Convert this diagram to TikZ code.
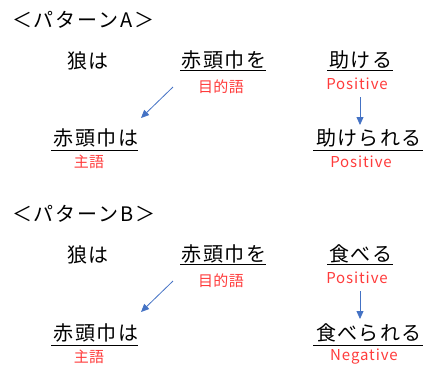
\documentclass[tikz,border=0pt]{standalone}
\usepackage{fontspec}
\setmainfont{Noto Sans CJK JP}
\usetikzlibrary{arrows.meta}
\definecolor{lblred}{HTML}{FF3B3B}
\definecolor{arrblue}{HTML}{4472C4}
\tikzset{
  jtext/.style={inner sep=0pt, font=\fontsize{20}{22}\selectfont\addfontfeature{LetterSpace=7}, text=black},
  title/.style={inner sep=0pt, anchor=west, font=\fontsize{20}{22}\selectfont\addfontfeature{LetterSpace=9}},
  redlbl/.style={inner sep=0pt, font=\fontsize{15}{16}\selectfont\addfontfeature{LetterSpace=3}, text=lblred},
  redlat/.style={inner sep=0pt, font=\fontsize{15}{16}\selectfont\addfontfeature{LetterSpace=6}, text=lblred},
  uline/.style={draw=black, line width=0.9pt},
  arr/.style={draw=arrblue, line width=0.8pt, -{Triangle[length=8pt,width=7pt]}}
}
\begin{document}
\begin{tikzpicture}[x=1pt,y=-1pt]
\useasboundingbox (0,0) rectangle (424,367);
% Pattern A
\node[title] (tA) at (12,20) {＜パターンA＞};
\node[jtext] (wolfA) at (88,61) {狼は};
\node[jtext] (objA) at (224,60) {赤頭巾を};
\node[redlbl] (objlA) at (221,87) {目的語};
\node[jtext] (vA) at (361,60) {助ける};
\node[redlat] (pvA) at (357,84) {Positive};
\node[jtext] (subA) at (96,138) {赤頭巾は};
\node[redlbl] (sublA) at (89,162) {主語};
\node[jtext] (vpA) at (369,138) {助けられる};
\node[redlat] (pvpA) at (361,162) {Positive};
\draw[uline] (180,70) -- (266,70);
\draw[uline] (327,70) -- (393,70);
\draw[uline] (51,150) -- (138,150);
\draw[uline] (313,150) -- (423,150);
\coordinate (dA1) at (173,87);
\coordinate (dA2) at (141,118);
\coordinate (vA1) at (360,97);
\coordinate (vA2) at (360,125);
\draw[arr] (dA1) -- (dA2);
\draw[arr] (vA1) -- (vA2);
% Pattern B
\node[title] (tB) at (12,214) {＜パターンB＞};
\node[jtext] (wolfB) at (88,255) {狼は};
\node[jtext] (objB) at (224,254) {赤頭巾を};
\node[redlbl] (objlB) at (221,281) {目的語};
\node[jtext] (vB) at (361,254) {食べる};
\node[redlat] (pvB) at (357,278) {Positive};
\node[jtext] (subB) at (96,333) {赤頭巾は};
\node[redlbl] (sublB) at (89,357) {主語};
\node[jtext] (vpB) at (369,333) {食べられる};
\node[redlat] (nvpB) at (364,357) {Negative};
\draw[uline] (180,264) -- (266,264);
\draw[uline] (327,264) -- (393,264);
\draw[uline] (51,345) -- (138,345);
\draw[uline] (313,345) -- (423,345);
\coordinate (dB1) at (173,281);
\coordinate (dB2) at (141,312);
\coordinate (vB1) at (360,291);
\coordinate (vB2) at (360,319);
\draw[arr] (dB1) -- (dB2);
\draw[arr] (vB1) -- (vB2);
\end{tikzpicture}
\end{document}
